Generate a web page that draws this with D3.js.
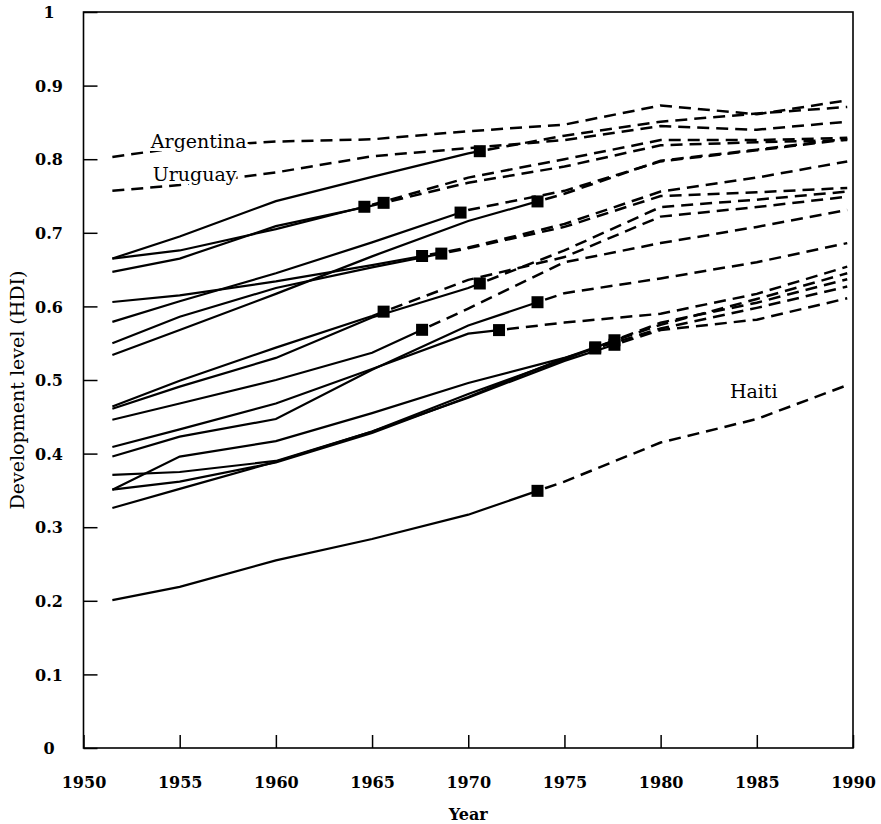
<!DOCTYPE html>
<html>
<head>
<meta charset="utf-8">
<script src="https://cdn.jsdelivr.net/npm/d3@7"></script>
<style>
  body { margin: 0; background: #fff; }
  svg { display: block; font-family: "DejaVu Serif", serif; }
  .tick text { font-family: "DejaVu Serif", serif; font-weight: bold; font-size: 16px; fill: #000; }
  .tick line { stroke: #000; stroke-width: 1.5; }
</style>
</head>
<body>
<svg id="chart" width="881" height="824"></svg>
<script>
// years of the HDI points (first and last sit just inside the frame)
var years = [1951.5, 1955, 1960, 1965, 1970, 1975, 1980, 1985, 1989.7];

var argentina = [0.803, 0.816, 0.824, 0.827, 0.838, 0.847, 0.873, 0.861, 0.880];
var uruguay   = [0.757, 0.765, 0.782, 0.804, 0.815, 0.826, 0.845, 0.840, 0.851];
var haiti     = [0.201, 0.219, 0.255, 0.284, 0.317, 0.362, 0.415, 0.447, 0.493];
var lineA  = [0.665, 0.695, 0.743, 0.776, 0.808, 0.832, 0.851, 0.862, 0.871];
var lineB  = [0.665, 0.676, 0.705, 0.738, 0.775, 0.800, 0.826, 0.826, 0.829];
var lineC  = [0.647, 0.665, 0.709, 0.737, 0.768, 0.790, 0.819, 0.823, 0.826];
var lineD1 = [0.579, 0.607, 0.645, 0.687, 0.731, 0.757, 0.797, 0.812, 0.827];
var lineD2 = [0.534, 0.568, 0.617, 0.668, 0.716, 0.753, 0.798, 0.813, 0.828];
var lineE1 = [0.606, 0.615, 0.634, 0.656, 0.680, 0.712, 0.756, 0.775, 0.797];
var lineE2 = [0.550, 0.586, 0.625, 0.653, 0.679, 0.708, 0.750, 0.755, 0.761];
var lineF  = [0.461, 0.491, 0.530, 0.585, 0.625, 0.676, 0.735, 0.745, 0.756];
var lineG  = [0.464, 0.499, 0.544, 0.587, 0.636, 0.667, 0.722, 0.735, 0.749];
var lineI  = [0.446, 0.468, 0.500, 0.537, 0.597, 0.660, 0.686, 0.708, 0.731];
var lineJ  = [0.409, 0.433, 0.468, 0.515, 0.563, 0.578, 0.590, 0.617, 0.654];
var lineH  = [0.396, 0.423, 0.447, 0.514, 0.574, 0.618, 0.638, 0.660, 0.686];
var lineK1 = [0.351, 0.396, 0.417, 0.455, 0.496, 0.530, 0.575, 0.610, 0.645];
var lineK2 = [0.371, 0.375, 0.390, 0.430, 0.481, 0.528, 0.578, 0.605, 0.637];
var lineK3 = [0.351, 0.362, 0.388, 0.428, 0.477, 0.530, 0.570, 0.598, 0.627];
var lineK4 = [0.326, 0.352, 0.389, 0.430, 0.476, 0.526, 0.568, 0.582, 0.611];

var seriesValues = [argentina, uruguay, lineA, lineB, lineC, lineD1, lineD2, lineE1, lineE2,
                    lineF, lineG, lineI, lineJ, lineH, lineK1, lineK2, lineK3, lineK4, haiti];
// year of the transition (square marker); null = dashed the whole way
var transitionYears = [null, null, 1970.6, 1964.6, 1965.6, 1969.6, 1973.6, 1967.6, 1968.6,
                       1970.6, 1965.6, 1967.6, 1971.6, 1973.6, 1976.6, 1977.6, 1976.6, 1977.6, 1973.6];

var xTicks = [1950, 1955, 1960, 1965, 1970, 1975, 1980, 1985, 1990];
var yTicks = [0, 0.1, 0.2, 0.3, 0.4, 0.5, 0.6, 0.7, 0.8, 0.9, 1];
var yTickLabels = ["0", "0.1", "0.2", "0.3", "0.4", "0.5", "0.6", "0.7", "0.8", "0.9", "1"];

var labelNames = ["Argentina", "Uruguay", "Haiti"];
var labelAt = [[1953.5, 0.815], [1953.6, 0.770], [1983.6, 0.475]];

var svg = d3.select("#chart");
var plotLeft = 83.5, plotRight = 853, plotTop = 12, plotBottom = 748;

var x = d3.scaleLinear().domain([1950, 1990]).range([plotLeft, plotRight]);
var y = d3.scaleLinear().domain([0, 1]).range([plotBottom, plotTop]);

var line = d3.line().x(function(d){ return x(d[0]); }).y(function(d){ return y(d[1]); });

// axes, ticks pointing inwards
var gx = svg.append("g").attr("transform", "translate(0," + plotBottom + ")")
  .call(d3.axisBottom(x).tickValues(xTicks).tickFormat(d3.format("d")).tickSize(-13).tickSizeOuter(0));
gx.select(".domain").remove();
gx.selectAll(".tick text").attr("y", 29).attr("dy", "0.71em");

var gy = svg.append("g").attr("transform", "translate(" + plotLeft + ",0)")
  .call(d3.axisLeft(y).tickValues(yTicks).tickFormat(function(d, i){ return yTickLabels[i]; }).tickSize(-14).tickSizeOuter(0));
gy.select(".domain").remove();
gy.selectAll(".tick text").attr("x", -34.5).attr("text-anchor", "middle").attr("dy", "0.36em");

svg.append("rect")
  .attr("x", plotLeft).attr("y", plotTop)
  .attr("width", plotRight - plotLeft).attr("height", plotBottom - plotTop)
  .attr("fill", "none").attr("stroke", "#000").attr("stroke-width", 1.6);

svg.append("text")
  .attr("x", (plotLeft + plotRight) / 2).attr("y", 820)
  .attr("text-anchor", "middle")
  .style("font-weight", "bold").style("font-size", "16px")
  .text("Year");

svg.append("text")
  .attr("transform", "translate(24," + ((plotTop + plotBottom) / 2 + 10) + ") rotate(-90)")
  .attr("text-anchor", "middle")
  .style("font-size", "19px")
  .text("Development level (HDI)");

var plot = svg.append("g");

seriesValues.forEach(function(vals, i) {
  var t = transitionYears[i];
  var pts = years.map(function(yr, j){ return [yr, vals[j]]; });
  if (t === null) {
    plot.append("path").attr("d", line(pts))
      .attr("fill", "none").attr("stroke", "#000").attr("stroke-width", 2.5)
      .attr("stroke-dasharray", "12,7");
    return;
  }
  var v = d3.scaleLinear().domain(years).range(vals)(t);
  var solid = pts.filter(function(p){ return p[0] < t; }).concat([[t, v]]);
  var dashed = [[t, v]].concat(pts.filter(function(p){ return p[0] > t; }));
  plot.append("path").attr("d", line(solid))
    .attr("fill", "none").attr("stroke", "#000").attr("stroke-width", 2.2);
  plot.append("path").attr("d", line(dashed))
    .attr("fill", "none").attr("stroke", "#000").attr("stroke-width", 2.5)
    .attr("stroke-dasharray", "12,7").attr("stroke-dashoffset", -8);
  plot.append("rect")
    .attr("x", x(t) - 6).attr("y", y(v) - 6)
    .attr("width", 12).attr("height", 12)
    .attr("fill", "#000");
});

svg.selectAll(".country")
  .data(labelNames)
  .enter().append("text")
  .attr("class", "country")
  .attr("x", function(d, i){ return x(labelAt[i][0]); })
  .attr("y", function(d, i){ return y(labelAt[i][1]); })
  .style("font-size", "19px")
  .attr("stroke", "#fff").attr("stroke-width", 6).attr("paint-order", "stroke")
  .attr("fill", "#000")
  .text(function(d){ return d; });
</script>
</body>
</html>
